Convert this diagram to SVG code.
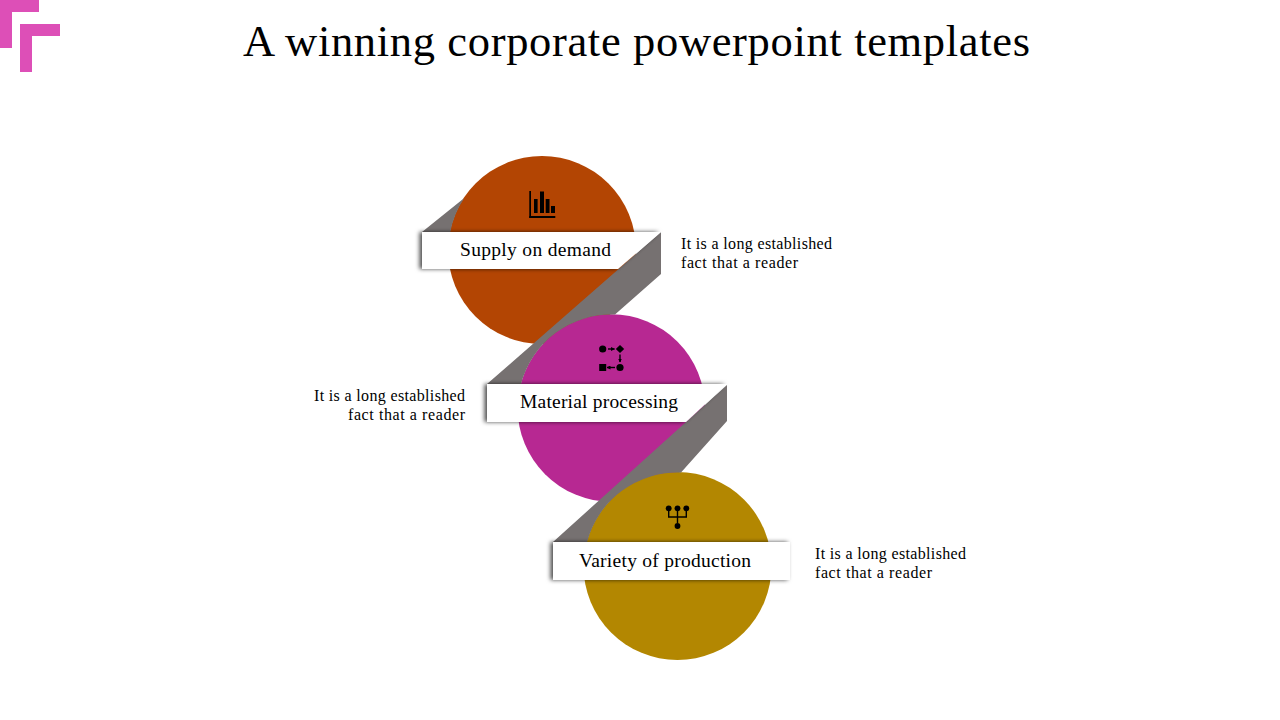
<svg xmlns="http://www.w3.org/2000/svg" width="1280" height="720" viewBox="0 0 1280 720">
<style>
text{font-family:"Liberation Serif","Times New Roman",serif;fill:#000}
.title{font-size:44.5px}
.label{font-size:19.5px}
.note{font-size:16px}
.band{fill:#767171}
.plate{fill:#fff;filter:url(#shadow)}
.ink{fill:#000}
.wire{stroke:#000;stroke-width:1.4;fill:none}
.corner{fill:#DD4FB7}
</style>
<defs>
<filter id="shadow" x="-5%" y="-20%" width="110%" height="140%">
<feDropShadow dx="-2.5" dy="0" stdDeviation="2" flood-color="#000" flood-opacity="0.7"/>
</filter>
<marker id="arr" markerWidth="4" markerHeight="4" refX="3.5" refY="2" orient="auto" markerUnits="userSpaceOnUse"><path d="M0,0L4,2L0,4Z" fill="#000"/></marker>
</defs>
<g id="corner-mark">
<polygon class="corner" points="0,0 39,0 39,12 12,12 12,48 0,48"/>
<polygon class="corner" points="20,24 60,24 60,36 32,36 32,72 20,72"/>
</g>
<text class="title" x="243" y="56" textLength="787" lengthAdjust="spacing">A winning corporate powerpoint templates</text>
<g id="node-supply">
<circle cx="542" cy="250" r="94" fill="#B34503"/>
<g id="icon-chart">
<rect class="ink" x="529.3" y="191" width="1.7" height="27"/>
<rect class="ink" x="529.3" y="216" width="26" height="2"/>
<rect class="ink" x="534" y="199" width="3.6" height="14"/>
<rect class="ink" x="540" y="191.5" width="4" height="21.5"/>
<rect class="ink" x="545.7" y="199" width="3.8" height="14"/>
<rect class="ink" x="551" y="206" width="4" height="7"/>
</g>
</g>
<g id="node-material">
<circle cx="611.3" cy="408" r="93.7" fill="#B72892"/>
<g id="icon-flow">
<circle class="ink" cx="602.7" cy="349" r="3.6"/>
<polygon class="ink" points="620,345 624.2,349 620,353 615.8,349"/>
<circle class="ink" cx="620" cy="367.5" r="3.6"/>
<rect class="ink" x="599.2" y="364" width="7" height="7"/>
<path class="wire" marker-end="url(#arr)" d="M608,349H614.5"/>
<path class="wire" marker-end="url(#arr)" d="M620,354.5V362"/>
<path class="wire" marker-end="url(#arr)" d="M615,367.5H607"/>
</g>
</g>
<g id="node-variety">
<circle cx="677.5" cy="566" r="94" fill="#B38701"/>
<g id="icon-tree">
<circle class="ink" cx="668.7" cy="508.3" r="2.9"/>
<circle class="ink" cx="677.5" cy="508.3" r="2.9"/>
<circle class="ink" cx="686.3" cy="508.3" r="2.9"/>
<circle class="ink" cx="677.5" cy="526" r="2.9"/>
<path class="wire" d="M668.7,510V517H686.3V510M677.5,510V523"/>
</g>
</g>
<g id="connectors">
<path class="band" d="M422,232L464.3,198A93.5,93.5 0 0 0 450.25,232Z"/>
<path class="band" d="M487,384L661,232V274L615,314.6A93.3,93.3 0 0 0 521,384Z"/>
<path class="band" d="M553,542L727,385V421L681,472.57A93.5,93.5 0 0 0 587.1,542Z"/>
</g>
<g id="label-supply">
<polygon class="plate" points="422,232 661,232 618,269 422,269"/>
<text class="label" x="460" y="256" textLength="151" lengthAdjust="spacing">Supply on demand</text>
</g>
<g id="label-material">
<polygon class="plate" points="487,384 727,384 686,422 487,422"/>
<text class="label" x="520" y="408" textLength="158" lengthAdjust="spacing">Material processing</text>
</g>
<g id="label-variety">
<rect class="plate" x="553" y="542" width="237" height="38"/>
<text class="label" x="579" y="567" textLength="172" lengthAdjust="spacing">Variety of production</text>
</g>
<g id="note-supply">
<text class="note" x="681" y="249" textLength="151" lengthAdjust="spacing">It is a long established</text>
<text class="note" x="681" y="268" textLength="117" lengthAdjust="spacing">fact that a reader</text>
</g>
<g id="note-material">
<text class="note" x="314" y="401" textLength="151" lengthAdjust="spacing">It is a long established</text>
<text class="note" x="348" y="420" textLength="117" lengthAdjust="spacing">fact that a reader</text>
</g>
<g id="note-variety">
<text class="note" x="815" y="559" textLength="151" lengthAdjust="spacing">It is a long established</text>
<text class="note" x="815" y="578" textLength="117" lengthAdjust="spacing">fact that a reader</text>
</g>
</svg>
